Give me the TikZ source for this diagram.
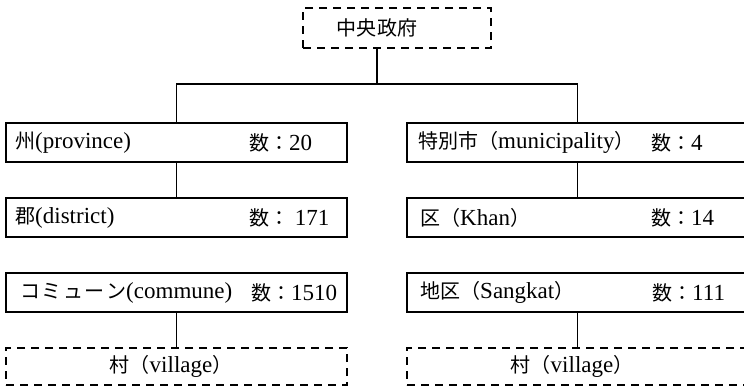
\documentclass[tikz,border=0pt]{standalone}
\usepackage{fontspec}
\setmainfont{Liberation Serif}
\newfontfamily\jp{Noto Sans CJK JP}[Scale=0.87]
\begin{document}
\begin{tikzpicture}[x=1pt,y=-1pt,
  box/.style={draw, line width=1.2pt, rectangle, inner sep=0pt, minimum width=341pt, minimum height=39pt},
  dbox/.style={draw, line width=1.2pt, rectangle, dash pattern=on 8pt off 6pt, inner sep=0pt},
  txt/.style={anchor=west, inner sep=0pt, font=\fontsize{23}{26}\selectfont},
  link/.style={line width=1.2pt}]
\useasboundingbox (0,0) rectangle (744,386);
\clip (0,0) rectangle (744,386);
\fill[white] (0,0) rectangle (744,386);

% top
\node[dbox, minimum width=188pt, minimum height=40pt] (top) at (397,28) {};
\node[txt, anchor=center] (topT) at (377,28) {{\jp 中央政府}};
\coordinate (j) at (377,84);

% left column
\node[box] (L1) at (176.5,142.5) {};
\node[box] (L2) at (176.5,217.5) {};
\node[box] (L3) at (176.5,292.5) {};
\node[dbox, minimum width=341pt, minimum height=37pt] (L4) at (176.5,366.5) {};

% right column
\node[box] (R1) at (577.5,142.5) {};
\node[box] (R2) at (577.5,217.5) {};
\node[box] (R3) at (577.5,292.5) {};
\node[dbox, minimum width=341pt, minimum height=37pt] (R4) at (577.5,366.5) {};

% texts
\node[txt] (L1a) at (15,142.5) {{\jp 州}(province)};
\node[txt] (L1b) at (249,142.5) {{\jp 数：}20};
\node[txt] (L2a) at (15,217.5) {{\jp 郡}(district)};
\node[txt] (L2b) at (249,217.5) {{\jp 数：} 171};
\node[txt] (L3a) at (20,292.5) {{\jp コ\hspace{1.5pt}ミ\hspace{1.5pt}ュ\hspace{1.5pt}ー\hspace{1.5pt}ン}(commune)};
\node[txt] (L3b) at (251,292.5) {{\jp 数：}1510};
\node[txt, anchor=center] (L4a) at (171,366.5) {{\jp 村（}village{\jp ）}};

\node[txt] (R1a) at (418,142.5) {{\jp 特別市（}municipality{\jp ）}};
\node[txt] (R1b) at (651,142.5) {{\jp 数：}4};
\node[txt] (R2a) at (420,217.5) {{\jp 区（}Khan{\jp ）}};
\node[txt] (R2b) at (651,217.5) {{\jp 数：}14};
\node[txt] (R3a) at (420,292.5) {{\jp 地区（}Sangkat{\jp ）}};
\node[txt] (R3b) at (652,292.5) {{\jp 数：}111};
\node[txt, anchor=center] (R4a) at (572,366.5) {{\jp 村（}village{\jp ）}};

% connectors
\draw[link] (top.south -| j) -- (j);
\draw[link] (L1.north) -- (L1.north |- j) -- (R1.north |- j) -- (R1.north);
\draw[link] (L1.south) -- (L2.north);
\draw[link] (R1.south) -- (R2.north);
\draw[link] (L3.south) -- (L4.north);
\draw[link] (R3.south) -- (R4.north);
\end{tikzpicture}
\end{document}
